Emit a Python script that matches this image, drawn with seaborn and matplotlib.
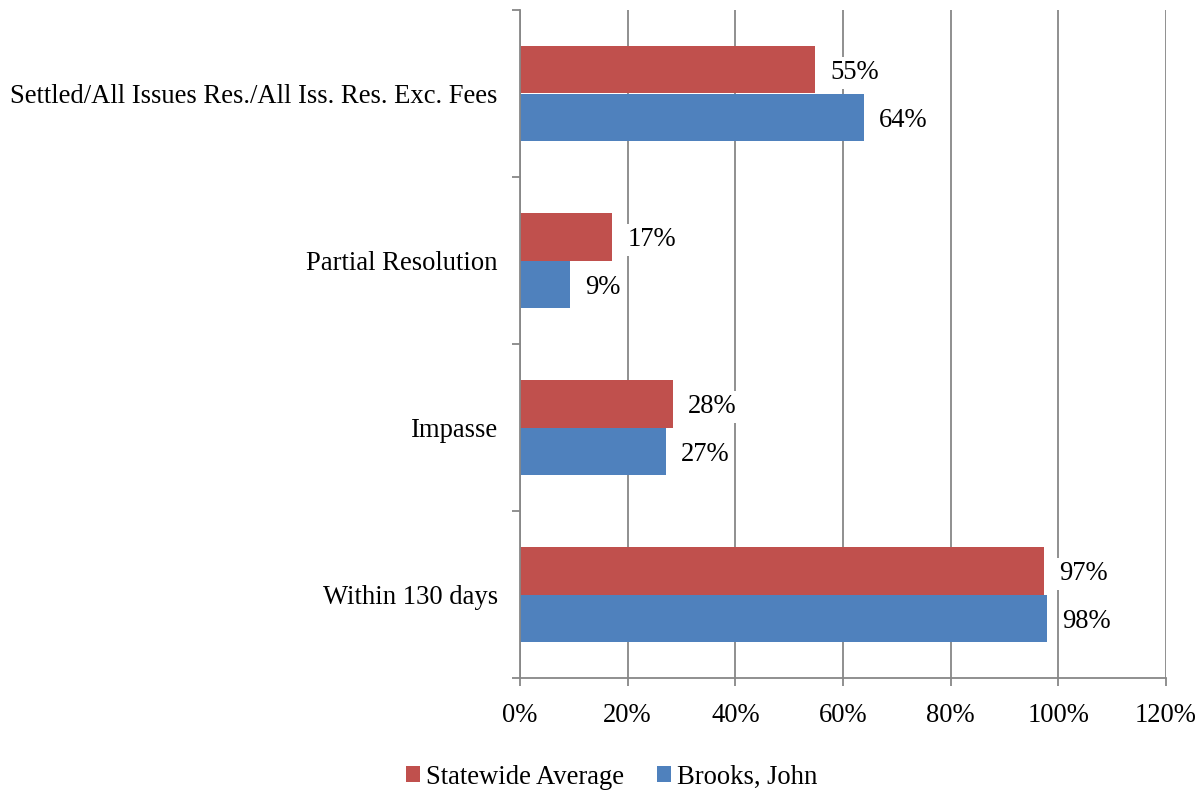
import matplotlib
matplotlib.use("Agg")
import matplotlib.pyplot as plt
import seaborn as sns
import pandas as pd
from matplotlib.ticker import FuncFormatter, FixedLocator
from matplotlib.patches import Patch

categories = ["Settled/All Issues Res./All Iss. Res. Exc. Fees",
              "Partial Resolution", "Impasse", "Within 130 days"]
series_names = ["Statewide Average", "Brooks, John"]
statewide = [54.8, 17.1, 28.4, 97.4]
brooks = [63.9, 9.3, 27.1, 97.9]
x_ticks = [0, 20, 40, 60, 80, 100, 120]
colors = ["#C0504D", "#4F81BD"]

df = pd.DataFrame({
    "category": categories * 2,
    "series": [series_names[0]] * 4 + [series_names[1]] * 4,
    "value": statewide + brooks,
})

sns.set_style("white")
plt.rcParams["font.family"] = ["Liberation Serif", "DejaVu Serif"]
plt.rcParams["text.color"] = "black"

FS = 19.2

fig = plt.figure(figsize=(11.99, 7.93), dpi=100)
ax = fig.add_axes([520/1199, 1 - 678/793, 646/1199, 668/793])

sns.barplot(data=df, y="category", x="value", hue="series", orient="h",
            order=categories, hue_order=series_names, palette=colors,
            width=0.565, ax=ax, legend=False, errorbar=None,
            edgecolor="none", linewidth=0, saturation=1)

ax.set_xlim(0, 120)
ax.set_ylim(len(categories) - 0.5, -0.5)
ax.xaxis.set_major_locator(FixedLocator(x_ticks))
ax.xaxis.set_major_formatter(FuncFormatter(lambda v, p: f"{v:.0f}%"))
ax.set_xlabel("")
ax.set_ylabel("")

ax.grid(axis="x", color="#878787", linewidth=1.3)
ax.grid(axis="y", visible=False)
ax.set_axisbelow(True)

for s in ["top", "right"]:
    ax.spines[s].set_visible(False)
for s in ["left", "bottom"]:
    ax.spines[s].set_color("#878787")
    ax.spines[s].set_linewidth(1.3)

ax.tick_params(axis="x", which="major", length=6, width=1.3, color="#878787",
               direction="out", labelsize=FS, pad=12, bottom=True)
ax.tick_params(axis="y", which="major", length=0, labelsize=FS, pad=16, left=False)
ax.set_yticks([i - 0.5 for i in range(len(categories) + 1)], minor=True)
ax.tick_params(axis="y", which="minor", length=6, width=1.3, color="#878787",
               direction="out", left=True)
for lbl in ax.get_xticklabels() + ax.get_yticklabels():
    lbl.set_color("black")

for cont in ax.containers:
    labels = [f"{round(b.get_width()):.0f}%" for b in cont]
    texts = ax.bar_label(cont, labels=labels, padding=11, fontsize=FS, color="black",
                         bbox=dict(facecolor="white", edgecolor="none", pad=2.5))
    for t in texts:
        t.set_verticalalignment("center_baseline")

handles = [Patch(facecolor=c, edgecolor="none") for c in colors]
fig.legend(handles, series_names, loc="center", bbox_to_anchor=(612/1199, 1 - 777/793),
           ncol=2, frameon=False, fontsize=FS, handlelength=0.52, handleheight=0.52,
           handletextpad=0.22, columnspacing=1.25, labelcolor="black")

fig.savefig("out.png", dpi=100)
